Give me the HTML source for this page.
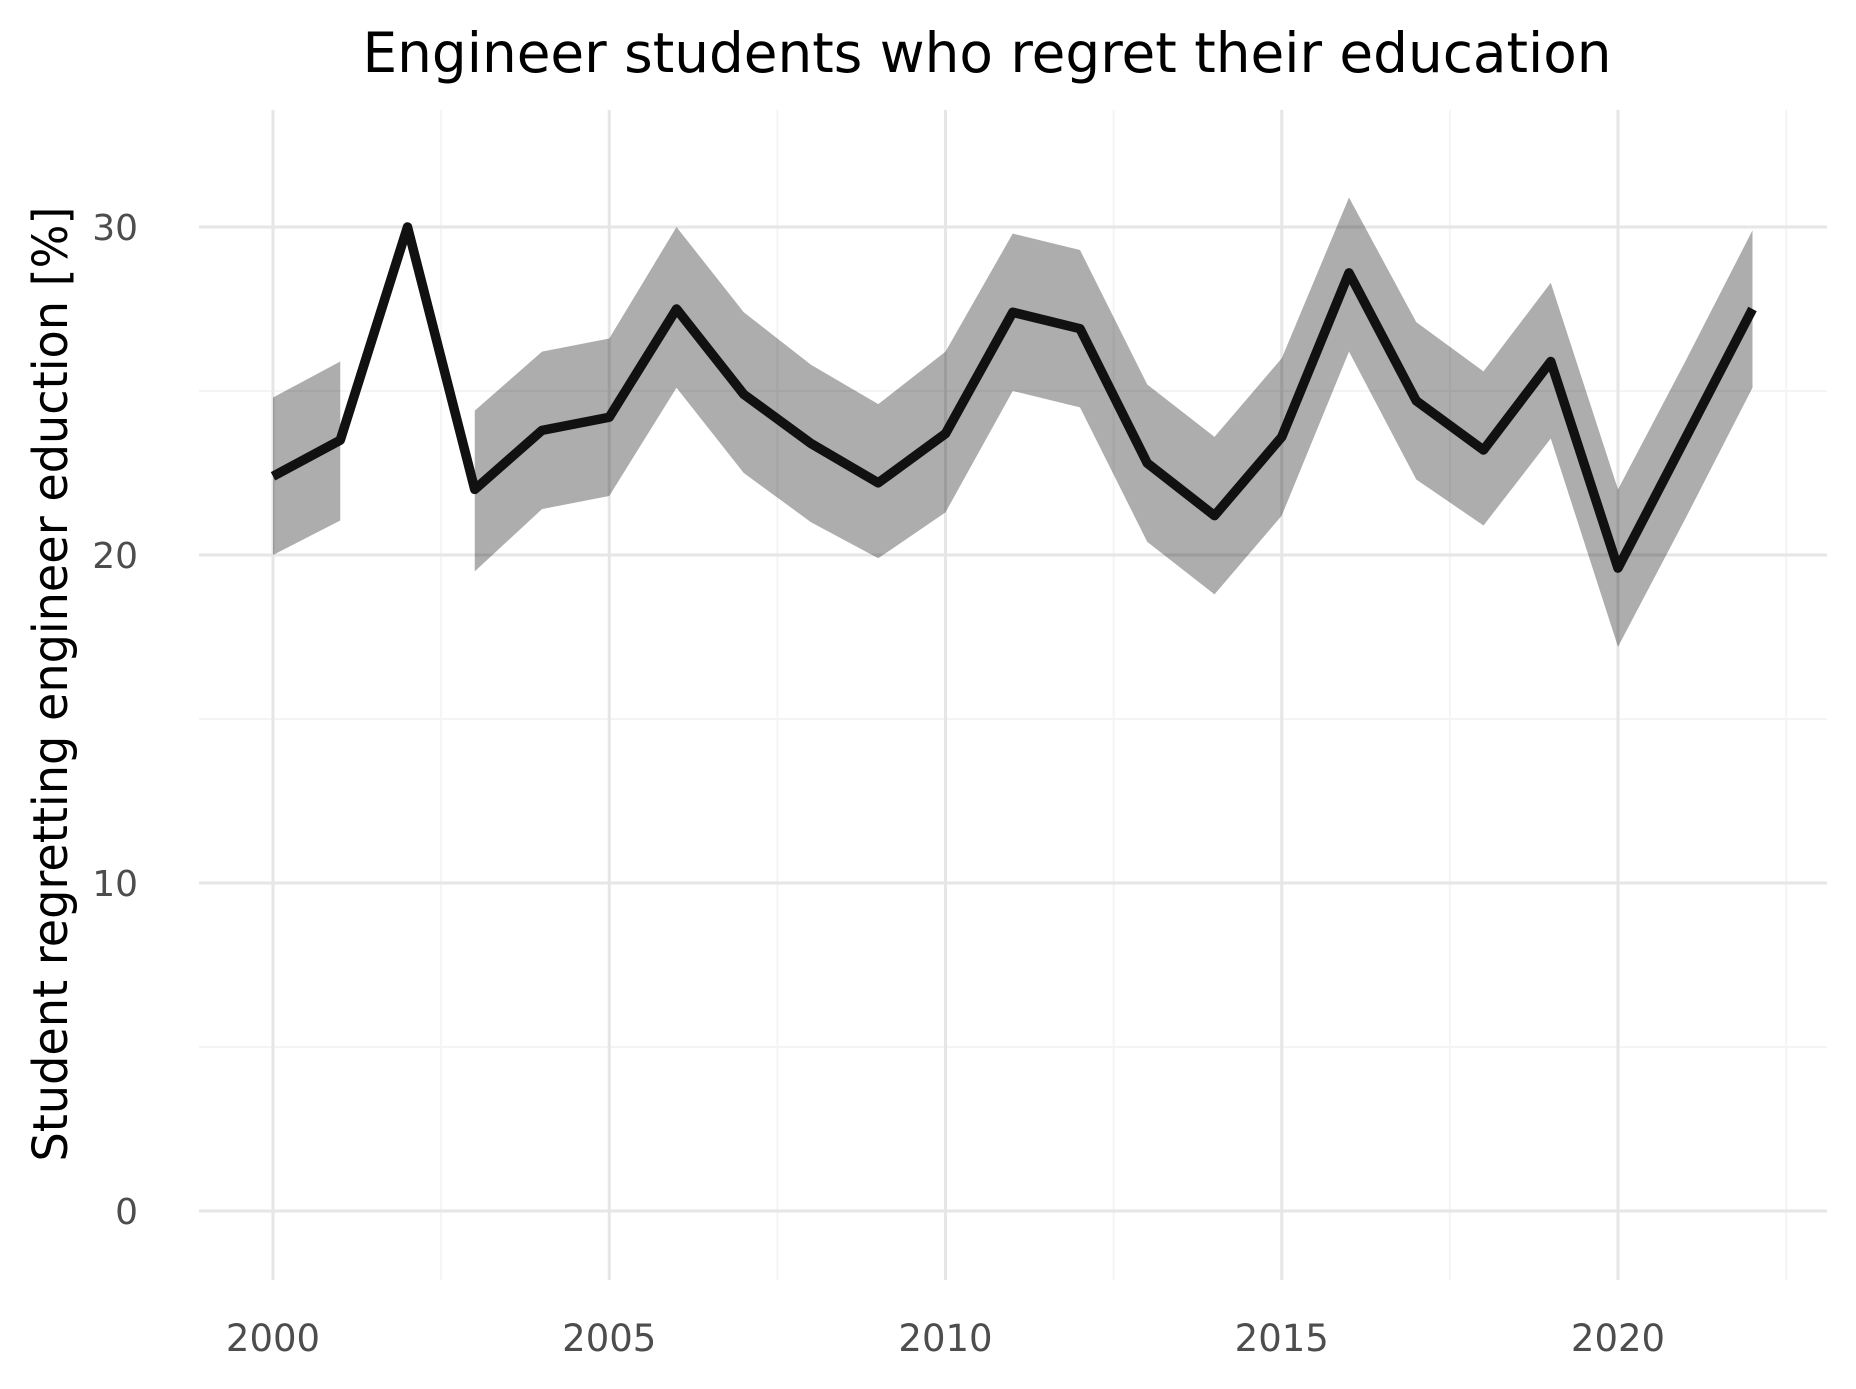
<!DOCTYPE html>
<html><head><meta charset="utf-8"><style>
html,body{margin:0;padding:0;background:#fff;}
svg{display:block;}
</style></head><body>
<svg id="chart" width="1856" height="1389" viewBox="0 0 1856 1389" xmlns="http://www.w3.org/2000/svg" font-family="DejaVu Sans, Liberation Sans, sans-serif">
<rect width="1856" height="1389" fill="#fff"/>
<text x="987" y="72" text-anchor="middle" font-size="55" fill="#000" textLength="1249" lengthAdjust="spacingAndGlyphs">Engineer students who regret their education</text>
<text transform="translate(67,684) rotate(-90)" text-anchor="middle" font-size="48" fill="#000" textLength="955" lengthAdjust="spacingAndGlyphs">Student regretting engineer eduction [%]</text>
<g id="grid"></g>
<g id="ribbons"></g>
<g id="lines"></g>
<g id="xticks"></g>
<g id="yticks"></g>
</svg>
<script>
const years = [2000,2001,2002,2003,2004,2005,2006,2007,2008,2009,2010,2011,2012,2013,2014,2015,2016,2017,2018,2019,2020,2021,2022];
const values = [22.4,23.5,30.0,22.0,23.8,24.2,27.5,24.9,23.4,22.2,23.7,27.4,26.9,22.8,21.2,23.6,28.6,24.7,23.2,25.9,19.6,23.55,27.5];
const upper = [24.8,25.9,null,24.4,26.2,26.6,30.0,27.4,25.8,24.6,26.2,29.8,29.3,25.2,23.6,26.0,30.9,27.1,25.6,28.3,22.0,25.9,29.9];
const lower = [20.0,21.05,null,19.5,21.4,21.8,25.1,22.5,21.0,19.9,21.3,25.0,24.5,20.4,18.8,21.2,26.2,22.3,20.9,23.55,17.2,21.1,25.1];
const xTicks = [2000,2005,2010,2015,2020];
const xMinor = [2002.5,2007.5,2012.5,2017.5,2022.5];
const yTicks = [0,10,20,30];
const yMinor = [5,15,25];

const NS = "http://www.w3.org/2000/svg";
const X = v => 273 + (v - 2000) * 67.25;
const Y = v => 1211 - v * 32.8;
const PL = 199, PR = 1827, PT = 110, PB = 1280;
function mk(tag, attrs, parent){
  const e = document.createElementNS(NS, tag);
  for (const k in attrs) e.setAttribute(k, attrs[k]);
  parent.appendChild(e);
  return e;
}
const grid = document.getElementById('grid');
yMinor.forEach(v => {
  const l = mk('line', {x1:PL, x2:PR, y1:Y(v), y2:Y(v), stroke:'#f4f4f4', 'stroke-width':2}, grid);
  
  
});
xMinor.forEach(v => {
  const l = mk('line', {x1:X(v), x2:X(v), y1:PT, y2:PB, stroke:'#f4f4f4', 'stroke-width':2}, grid);
  
  
});
yTicks.forEach(v => {
  const l = mk('line', {x1:PL, x2:PR, y1:Y(v), y2:Y(v), stroke:'#e6e6e6', 'stroke-width':3}, grid);
  
  
});
xTicks.forEach(v => {
  const l = mk('line', {x1:X(v), x2:X(v), y1:PT, y2:PB, stroke:'#e6e6e6', 'stroke-width':3}, grid);
  
  
});

const rib = document.getElementById('ribbons');
let segs = [], cur = [];
years.forEach((yr, i) => {
  if (upper[i] == null || lower[i] == null) { if (cur.length) segs.push(cur); cur = []; }
  else cur.push(i);
});
if (cur.length) segs.push(cur);
segs.forEach(s => {
  const pts = s.map(i => X(years[i]) + ',' + Y(upper[i]))
    .concat(s.slice().reverse().map(i => X(years[i]) + ',' + Y(lower[i])));
  const p = mk('polygon', {points: pts.join(' '), fill:'#000', 'fill-opacity':0.32}, rib);
  
  
});

const lines = document.getElementById('lines');
const pl = mk('polyline', {points: years.map((yr, i) => X(yr) + ',' + Y(values[i])).join(' '),
  fill:'none', stroke:'#111', 'stroke-width':9.5, 'stroke-linejoin':'round', 'stroke-linecap':'butt'}, lines);



const xt = document.getElementById('xticks');
xTicks.forEach(v => {
  const t = mk('text', {x:X(v), y:1351, 'text-anchor':'middle', 'font-size':37, fill:'#4d4d4d'}, xt);
  t.textContent = String(v);
  
  
});
const yt = document.getElementById('yticks');
yTicks.forEach(v => {
  const t = mk('text', {x:138, y:Y(v) + 13, 'text-anchor':'end', 'font-size':36, fill:'#4d4d4d'}, yt);
  t.textContent = String(v);
  
  
});
</script>
</body></html>
